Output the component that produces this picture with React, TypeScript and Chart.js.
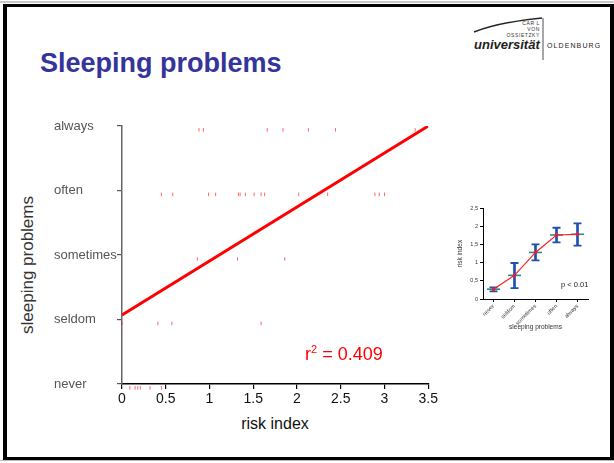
import React, { useEffect, useRef } from "react";
import { Chart, registerables } from "chart.js";
Chart.register(...registerables);

const levelLabels = ["never", "seldom", "sometimes", "often", "always"];
const xTickLabels = ["0", "0.5", "1", "1.5", "2", "2.5", "3", "3.5"];

const neverX = [0.09, 0.15, 0.18, 0.21, 0.32, 0.45];
const seldomX = [0, 0.41, 0.57, 1.59];
const sometimesX = [0.86, 1.32, 1.86];
const oftenX = [0.45, 0.58, 0.99, 1.07, 1.33, 1.35, 1.41, 1.51, 1.59, 1.63, 2.02, 2.35, 2.89, 2.94, 3.0];
const alwaysX = [0.88, 0.93, 1.66, 1.84, 2.13, 2.44, 3.35];
const pointOffset = -0.06;

const regressionX = [0, 3.5];
const regressionY = [1.07, 4.0];

const insetCategories = ["never", "seldom", "sometimes", "often", "always"];
const insetMeans = [0.27, 0.65, 1.28, 1.76, 1.78];
const insetLow = [0.21, 0.3, 1.06, 1.56, 1.47];
const insetHigh = [0.32, 0.99, 1.5, 1.96, 2.08];
const insetYTickLabels = ["0", "0,5", "1", "1,5", "2", "2,5"];

const FONT = "'Liberation Sans', Arial, Helvetica, sans-serif";

function MainChart() {
  const ref = useRef<HTMLCanvasElement>(null);
  useEffect(() => {
    const groups = [neverX, seldomX, sometimesX, oftenX, alwaysX];
    const pts: { x: number; y: number }[] = [];
    groups.forEach((xs, level) => xs.forEach((x) => pts.push({ x, y: level + pointOffset })));
    const chart = new Chart(ref.current!, {
      type: "scatter",
      data: {
        datasets: [
          {
            type: "line",
            data: regressionX.map((x, i) => ({ x, y: regressionY[i] })),
            borderColor: "#ff0000",
            borderWidth: 3,
            pointRadius: 0,
            fill: false,
          } as any,
          {
            data: pts,
            pointStyle: "line",
            pointRadius: 1.8,
            pointRotation: 90,
            borderColor: "rgba(255,40,40,0.7)",
            pointBorderWidth: 1,
            clip: false,
          } as any,
        ],
      },
      options: {
        animation: false,
        responsive: false,
        maintainAspectRatio: false,
        layout: { padding: { left: 0, right: 11, top: 16, bottom: 0 } },
        plugins: { legend: { display: false }, tooltip: { enabled: false } },
        scales: {
          x: {
            type: "linear",
            min: 0,
            max: 3.5,
            grid: { drawOnChartArea: false, tickLength: 5, color: "#000", lineWidth: 1.2 },
            border: { color: "#000", width: 1.5 },
            ticks: {
              stepSize: 0.5,
              maxRotation: 0,
              padding: 2,
              color: "#111",
              font: { family: FONT, size: 14 },
              callback: (_v: any, i: number) => xTickLabels[i],
            },
            afterFit: (s: any) => {
              s.height = 30;
            },
          },
          y: {
            min: 0,
            max: 4,
            grid: { drawOnChartArea: false, tickLength: 5, color: "#555", lineWidth: 1.2 },
            border: { color: "#666", width: 1.5 },
            ticks: {
              stepSize: 1,
              crossAlign: "far",
              color: "#555",
              font: { family: FONT, size: 13 },
              callback: (v: any) => levelLabels[Number(v)],
            },
            afterFit: (s: any) => {
              s.width = 68;
            },
          },
        },
      } as any,
    });
    return () => chart.destroy();
  }, []);
  return (
    <canvas
      ref={ref}
      width={386}
      height={304}
      style={{ position: "absolute", left: 54, top: 110, width: 386, height: 304 }}
    />
  );
}

function InsetChart() {
  const ref = useRef<HTMLCanvasElement>(null);
  useEffect(() => {
    const blue = "#1f4fb0";
    const chart = new Chart(ref.current!, {
      type: "bar",
      data: {
        labels: insetCategories,
        datasets: [
          {
            type: "bar",
            data: insetLow.map((l, i) => [l, insetHigh[i]]),
            backgroundColor: blue,
            barThickness: 2,
            order: 4,
          } as any,
          {
            type: "line",
            data: insetLow,
            showLine: false,
            pointStyle: "line",
            pointRadius: 4,
            pointBorderColor: blue,
            pointBorderWidth: 1.8,
            order: 3,
          },
          {
            type: "line",
            data: insetHigh,
            showLine: false,
            pointStyle: "line",
            pointRadius: 4,
            pointBorderColor: blue,
            pointBorderWidth: 1.8,
            order: 3,
          },
          {
            type: "line",
            data: insetMeans,
            showLine: false,
            pointStyle: "line",
            pointRadius: 6.5,
            pointBorderColor: "#2a8c8c",
            pointBorderWidth: 1.6,
            order: 2,
          },
          {
            type: "line",
            data: insetMeans,
            borderColor: "#ff2020",
            borderWidth: 1.2,
            pointRadius: 1.3,
            pointBackgroundColor: "#e02040",
            pointBorderColor: "#e02040",
            tension: 0,
            order: 1,
          },
        ],
      },
      options: {
        animation: false,
        responsive: false,
        maintainAspectRatio: false,
        layout: { padding: { left: 0, right: 17, top: 8, bottom: 0 } },
        plugins: { legend: { display: false }, tooltip: { enabled: false } },
        scales: {
          x: {
            type: "category",
            offset: true,
            grid: { drawOnChartArea: false, tickLength: 3, color: "#000", offset: false },
            border: { color: "#000", width: 1 },
            ticks: {
              minRotation: 45,
              maxRotation: 45,
              padding: 1,
              color: "#333",
              font: { family: FONT, size: 5.5 },
            },
            title: {
              display: true,
              text: "sleeping problems",
              color: "#333",
              font: { family: FONT, size: 6.5 },
              padding: { top: 0, bottom: 9 },
            },
            afterFit: (s: any) => {
              s.height = 41;
            },
          },
          y: {
            min: 0,
            max: 2.5,
            grid: { drawOnChartArea: false, tickLength: 3, color: "#000" },
            border: { color: "#000", width: 1 },
            ticks: {
              stepSize: 0.5,
              padding: 2,
              color: "#333",
              font: { family: FONT, size: 5.5 },
              callback: (_v: any, i: number) => insetYTickLabels[i],
            },
            title: {
              display: true,
              text: "risk index",
              color: "#333",
              font: { family: FONT, size: 6.5 },
              padding: { top: 16, bottom: 0 },
            },
            afterFit: (s: any) => {
              s.width = 43;
            },
          },
        },
      } as any,
    });
    return () => chart.destroy();
  }, []);
  return (
    <canvas
      ref={ref}
      width={165}
      height={140}
      style={{ position: "absolute", left: 440, top: 200, width: 165, height: 140 }}
    />
  );
}

export default function App() {
  const abs = (s: React.CSSProperties): React.CSSProperties => ({ position: "absolute", ...s });
  return (
    <div
      style={{
        position: "fixed",
        left: 0,
        top: 0,
        width: 614,
        height: 463,
        background: "#fff",
        overflow: "hidden",
        fontFamily: FONT,
      }}
    >
      <div style={abs({ left: 0, top: 1, width: 614, height: 2, background: "#c8c8c8" })} />
      <div
        style={abs({
          left: 3,
          top: 4,
          width: 611,
          height: 456,
          boxSizing: "border-box",
          borderStyle: "solid",
          borderColor: "#000",
          borderWidth: "3px 4px 3px 4px",
        })}
      />
      <div style={abs({ left: 0, top: 460, width: 614, height: 1, background: "#bbb" })} />

      <div
        style={abs({
          left: 40,
          top: 50,
          fontSize: 27,
          lineHeight: "27px",
          fontWeight: "bold",
          color: "#34349a",
          whiteSpace: "nowrap",
        })}
      >
        Sleeping problems
      </div>

      {/* logo */}
      <svg style={abs({ left: 470, top: 12, width: 80, height: 55 })} width={80} height={55}>
        <path d="M4 20 Q 30 10 72 6" stroke="#222" strokeWidth={1.4} fill="none" />
        <line x1={73} y1={6} x2={73} y2={48} stroke="#222" strokeWidth={0.8} />
      </svg>
      <div
        style={abs({
          left: 500,
          top: 20,
          width: 40,
          textAlign: "right",
          fontSize: 5,
          lineHeight: "6px",
          letterSpacing: "0.6px",
          color: "#333",
        })}
      >
        CAR L<br />
        VON
        <br />
        OSSIETZKY
      </div>
      <div
        style={abs({
          left: 474,
          top: 38,
          fontSize: 13,
          lineHeight: "13px",
          fontWeight: "bold",
          fontStyle: "italic",
          color: "#222",
          whiteSpace: "nowrap",
        })}
      >
        universität
      </div>
      <div
        style={abs({
          left: 547,
          top: 42,
          fontSize: 7,
          lineHeight: "8px",
          letterSpacing: "1.1px",
          color: "#222",
          whiteSpace: "nowrap",
        })}
      >
        OLDENBURG
      </div>

      <MainChart />

      <div
        style={abs({
          left: 27,
          top: 265,
          transform: "translate(-50%, -50%) rotate(-90deg)",
          fontSize: 17,
          lineHeight: "17px",
          color: "#333",
          whiteSpace: "nowrap",
        })}
      >
        sleeping problems
      </div>
      <div
        style={abs({
          left: 275,
          top: 424,
          transform: "translate(-50%, -50%)",
          fontSize: 16,
          lineHeight: "16px",
          color: "#111",
          whiteSpace: "nowrap",
        })}
      >
        risk index
      </div>
      <div
        style={abs({
          left: 305,
          top: 345,
          fontSize: 18,
          lineHeight: "18px",
          color: "#ff0000",
          whiteSpace: "nowrap",
        })}
      >
        r<span style={{ fontSize: 11, position: "relative", top: -7 }}>2</span> = 0.409
      </div>

      <InsetChart />
      <div
        style={abs({
          left: 561,
          top: 280,
          fontSize: 7.5,
          lineHeight: "9px",
          color: "#222",
          whiteSpace: "nowrap",
        })}
      >
        p &lt; 0.01
      </div>
    </div>
  );
}
